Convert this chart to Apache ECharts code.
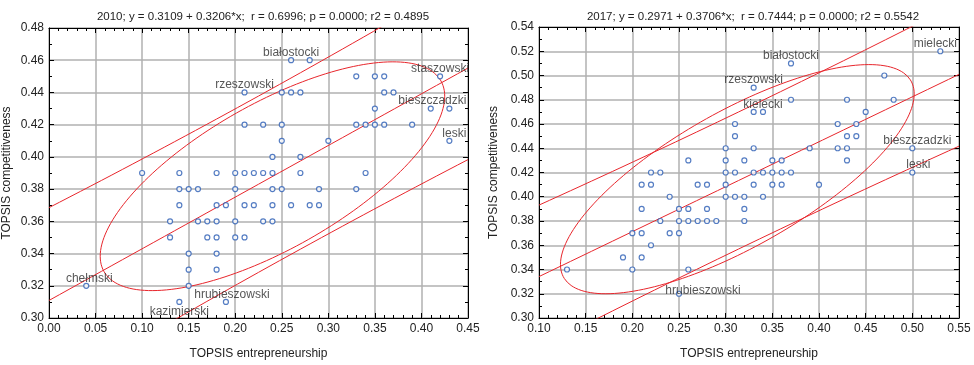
<!DOCTYPE html>
<html>
<head>
<meta charset="utf-8">
<script src="https://cdn.jsdelivr.net/npm/echarts@6/dist/echarts.min.js"></script>
<style>
  html, body { margin: 0; padding: 0; background: #fff; }
  #chart { width: 974px; height: 365px; }
</style>
</head>
<body>
<div id="chart"></div>
<script>
// 2010 panel: TOPSIS entrepreneurship (x) vs TOPSIS competitiveness (y)
const ent2010 = [
  0.26, 0.28,
  0.33, 0.35, 0.36, 0.42,
  0.21, 0.25, 0.26, 0.27, 0.36, 0.37,
  0.35, 0.41, 0.43,
  0.21, 0.23, 0.25, 0.33, 0.34, 0.35, 0.36, 0.39,
  0.25, 0.30, 0.43,
  0.24, 0.27,
  0.10, 0.14, 0.18, 0.20, 0.21, 0.22, 0.23, 0.24, 0.27, 0.34,
  0.14, 0.15, 0.16, 0.20, 0.24, 0.25, 0.29, 0.33,
  0.14, 0.18, 0.19, 0.21, 0.22, 0.24, 0.26, 0.28, 0.29,
  0.13, 0.16, 0.17, 0.18, 0.20, 0.23, 0.24,
  0.13, 0.17, 0.18, 0.20, 0.21,
  0.15, 0.18,
  0.15, 0.18,
  0.04, 0.15,
  0.14, 0.19
];
const comp2010 = [
  0.46, 0.46,
  0.45, 0.45, 0.45, 0.45,
  0.44, 0.44, 0.44, 0.44, 0.44, 0.44,
  0.43, 0.43, 0.43,
  0.42, 0.42, 0.42, 0.42, 0.42, 0.42, 0.42, 0.42,
  0.41, 0.41, 0.41,
  0.40, 0.40,
  0.39, 0.39, 0.39, 0.39, 0.39, 0.39, 0.39, 0.39, 0.39, 0.39,
  0.38, 0.38, 0.38, 0.38, 0.38, 0.38, 0.38, 0.38,
  0.37, 0.37, 0.37, 0.37, 0.37, 0.37, 0.37, 0.37, 0.37,
  0.36, 0.36, 0.36, 0.36, 0.36, 0.36, 0.36,
  0.35, 0.35, 0.35, 0.35, 0.35,
  0.34, 0.34,
  0.33, 0.33,
  0.32, 0.32,
  0.31, 0.31
];
const tags2010 = [
  ['białostocki', 0.26, 0.46],
  ['rzeszowski', 0.21, 0.44],
  ['staszowski', 0.42, 0.45],
  ['bieszczadzki', 0.43, 0.43],
  ['leski', 0.43, 0.41],
  ['chełmski', 0.04, 0.32],
  ['hrubieszowski', 0.19, 0.31],
  ['kazimierski', 0.14, 0.31]
];
const fit2010 = [0.3109, 0.3206]; // intercept, slope
const r2010 = 0.6996;
// 95% ellipse: centre x, centre y, half-width, half-height
const ell2010 = [0.240, 0.388, 0.185, 0.071];
const title2010 = '2010; y = 0.3109 + 0.3206*x;  r = 0.6996; p = 0.0000; r2 = 0.4895';

// 2017 panel
const ent2017 = [
  0.53,
  0.37,
  0.47,
  0.33,
  0.37, 0.43, 0.48,
  0.33, 0.34, 0.45,
  0.31, 0.42, 0.44,
  0.31, 0.43, 0.44,
  0.30, 0.33, 0.39, 0.42, 0.43, 0.50,
  0.26, 0.30, 0.32, 0.35, 0.36, 0.43,
  0.22, 0.23, 0.30, 0.31, 0.33, 0.34, 0.35, 0.36, 0.37, 0.50,
  0.21, 0.22, 0.27, 0.28, 0.30, 0.33, 0.35, 0.36, 0.40,
  0.24, 0.30, 0.31, 0.32, 0.34,
  0.21, 0.25, 0.26, 0.28, 0.32,
  0.23, 0.25, 0.26, 0.27, 0.28, 0.29, 0.32,
  0.20, 0.21, 0.24, 0.25,
  0.22,
  0.19, 0.21,
  0.13, 0.20, 0.26,
  0.25
];
const comp2017 = [
  0.52,
  0.51,
  0.50,
  0.49,
  0.48, 0.48, 0.48,
  0.47, 0.47, 0.47,
  0.46, 0.46, 0.46,
  0.45, 0.45, 0.45,
  0.44, 0.44, 0.44, 0.44, 0.44, 0.44,
  0.43, 0.43, 0.43, 0.43, 0.43, 0.43,
  0.42, 0.42, 0.42, 0.42, 0.42, 0.42, 0.42, 0.42, 0.42, 0.42,
  0.41, 0.41, 0.41, 0.41, 0.41, 0.41, 0.41, 0.41, 0.41,
  0.40, 0.40, 0.40, 0.40, 0.40,
  0.39, 0.39, 0.39, 0.39, 0.39,
  0.38, 0.38, 0.38, 0.38, 0.38, 0.38, 0.38,
  0.37, 0.37, 0.37, 0.37,
  0.36,
  0.35, 0.35,
  0.34, 0.34, 0.34,
  0.32
];
const tags2017 = [
  ['mielecki', 0.53, 0.52],
  ['białostocki', 0.37, 0.51],
  ['rzeszowski', 0.33, 0.49],
  ['kielecki', 0.34, 0.47],
  ['bieszczadzki', 0.50, 0.44],
  ['leski', 0.50, 0.42],
  ['hrubieszowski', 0.25, 0.32]
];
const fit2017 = [0.2971, 0.3706];
const r2017 = 0.7444;
const ell2017 = [0.3125, 0.4145, 0.1895, 0.0945];
const title2017 = '2017; y = 0.2971 + 0.3706*x;  r = 0.7444; p = 0.0000; r2 = 0.5542';

// label nudges (px) where the original moved a label off-centre
const labelShift = {
  '2010:bieszczadzki': [-17, 1],
  '2010:leski': [5, 1],
  '2010:hrubieszowski': [6, 1],
  '2010:chełmski': [3, 1],
  '2017:mielecki': [-5, 1],
  '2017:bieszczadzki': [5, 1],
  '2017:leski': [6, 1],
  '2017:hrubieszowski': [24, 5]
};

const FONT = '"Liberation Sans", Arial, sans-serif';
const RED = '#e8262c';
const BLUE = '#2a5cb4';
const T_PRED = 1.993;

const chart = echarts.init(document.getElementById('chart'));

function stats(xs, ys) {
  const n = xs.length;
  let mx = 0, my = 0;
  for (let i = 0; i < n; i++) { mx += xs[i]; my += ys[i]; }
  mx /= n; my /= n;
  let sxx = 0;
  for (let i = 0; i < n; i++) sxx += (xs[i] - mx) ** 2;
  return { n, mx, my, sxx };
}

// ellipse with the given half extents, tilted by the correlation r
function ellipse(e, r) {
  const pts = [];
  const q = Math.sqrt(1 - r * r);
  for (let i = 0; i <= 180; i++) {
    const t = i / 180 * Math.PI * 2;
    pts.push([e[0] + e[2] * Math.cos(t), e[1] + e[3] * (r * Math.cos(t) + q * Math.sin(t))]);
  }
  return pts;
}

// regression line and 95% prediction band
function bands(xs, ys, fit, x0, x1) {
  const s = stats(xs, ys);
  let sse = 0;
  for (let i = 0; i < s.n; i++) sse += (ys[i] - fit[0] - fit[1] * xs[i]) ** 2;
  const se = Math.sqrt(sse / (s.n - 2));
  const mid = [], up = [], lo = [];
  for (let i = 0; i <= 40; i++) {
    const x = x0 + (x1 - x0) * i / 40;
    const y = fit[0] + fit[1] * x;
    const w = T_PRED * se * Math.sqrt(1 + 1 / s.n + (x - s.mx) ** 2 / s.sxx);
    mid.push([x, y]); up.push([x, y + w]); lo.push([x, y - w]);
  }
  return [mid, up, lo];
}

const fmt = v => v.toFixed(2);

function axes(gi, xr, yr) {
  const tick = { inside: true, length: 5, lineStyle: { color: '#000' } };
  const line = { show: true, onZero: false, lineStyle: { color: '#000', width: 1 } };
  const label = { formatter: fmt, color: '#222', fontSize: 12, fontFamily: FONT };
  const grid = { show: true, lineStyle: { color: '#b0b0b0', width: 1.5 } };
  const nameStyle = { color: '#222', fontSize: 12, fontFamily: FONT };
  const x = {
    gridIndex: gi, type: 'value', min: xr[0], max: xr[1], interval: 0.05,
    axisLine: line, axisTick: tick,
    minorTick: { show: true, splitNumber: 5, length: 3, lineStyle: { color: '#000' } }
  };
  const y = {
    gridIndex: gi, type: 'value', min: yr[0], max: yr[1], interval: 0.02,
    axisLine: line, axisTick: tick,
    minorTick: { show: true, splitNumber: 2, length: 3, lineStyle: { color: '#000' } }
  };
  return {
    x: [
      Object.assign({}, x, {
        position: 'bottom', axisLabel: Object.assign({ margin: 5 }, label), splitLine: grid,
        name: 'TOPSIS entrepreneurship', nameLocation: 'middle', nameGap: 30, nameTextStyle: nameStyle
      }),
      Object.assign({}, x, { position: 'top', axisLabel: { show: false }, splitLine: { show: false } })
    ],
    y: [
      Object.assign({}, y, {
        position: 'left', axisLabel: Object.assign({ margin: 5 }, label), splitLine: grid,
        name: 'TOPSIS competitiveness', nameLocation: 'middle', nameGap: gi === 0 ? 36 : 39, nameTextStyle: nameStyle
      }),
      Object.assign({}, y, { position: 'right', axisLabel: { show: false }, splitLine: { show: false } })
    ]
  };
}

function panel(gi, year, xs, ys, tags, fit, r, ell, xr) {
  const ax = gi * 2;
  const pts = xs.map((x, i) => [x, ys[i]]);
  const [mid, up, lo] = bands(xs, ys, fit, xr[0], xr[1]);
  const redLine = data => ({
    type: 'line', xAxisIndex: ax, yAxisIndex: ax, data, showSymbol: false, symbol: 'none',
    clip: true, silent: true, z: 3,
    lineStyle: { color: RED, width: 1 }
  });
  return [
    redLine(mid), redLine(up), redLine(lo), redLine(ellipse(ell, r)),
    {
      type: 'scatter', xAxisIndex: ax, yAxisIndex: ax, data: pts, z: 4,
      symbol: 'circle', symbolSize: 5,
      itemStyle: { color: '#fff', borderColor: BLUE, borderWidth: 1.2 }
    },
    {
      type: 'scatter', xAxisIndex: ax, yAxisIndex: ax, symbol: 'circle', symbolSize: 5, z: 5, silent: true,
      itemStyle: { color: 'rgba(0,0,0,0)' },
      data: tags.map(t => ({
        value: [t[1], t[2]],
        label: {
          show: true, formatter: t[0],
          position: t[0] === 'kazimierski' ? 'bottom' : 'top',
          distance: 0,
          offset: labelShift[year + ':' + t[0]] || [0, 1],
          color: '#2a2a2a', fontSize: 12, fontFamily: FONT
        }
      }))
    }
  ];
}

const a0 = axes(0, [0, 0.45], [0.30, 0.48]);
const a1 = axes(1, [0.10, 0.55], [0.30, 0.54]);

const option = {
  animation: false,
  backgroundColor: '#fff',
  title: [
    { text: title2010, left: 258, top: 6, textAlign: 'center',
      textStyle: { fontSize: 11.5, fontWeight: 'normal', color: '#222', fontFamily: FONT } },
    { text: title2017, left: 748, top: 6, textAlign: 'center',
      textStyle: { fontSize: 11.5, fontWeight: 'normal', color: '#222', fontFamily: FONT } }
  ],
  grid: [
    { left: 48, top: 28, width: 420, height: 297 },
    { left: 539, top: 27, width: 420, height: 298 }
  ],
  xAxis: a0.x.concat(a1.x),
  yAxis: a0.y.concat(a1.y),
  series: panel(0, '2010', ent2010, comp2010, tags2010, fit2010, r2010, ell2010, [0, 0.45])
    .concat(panel(1, '2017', ent2017, comp2017, tags2017, fit2017, r2017, ell2017, [0.10, 0.55]))
};

chart.setOption(option);
</script>
</body>
</html>
